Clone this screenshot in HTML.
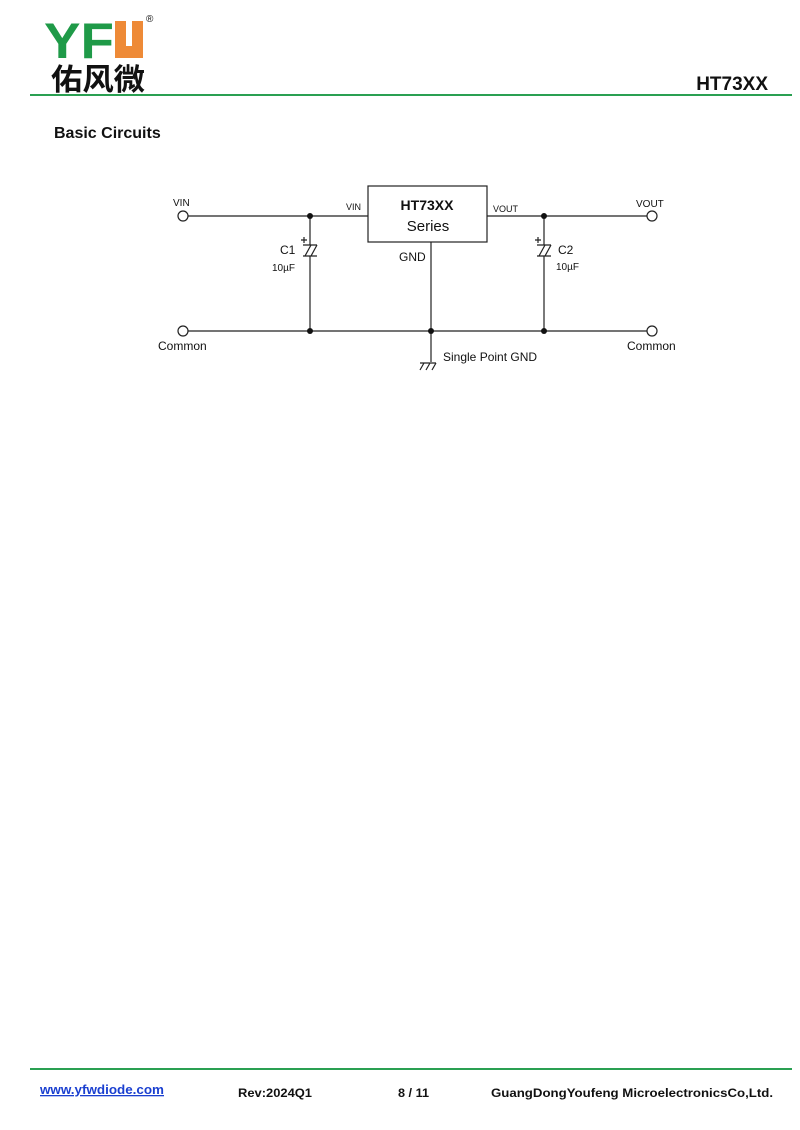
<!DOCTYPE html>
<html><head><meta charset="utf-8"><style>
body{margin:0;background:#fff;width:800px;height:1130px;overflow:hidden}
svg{display:block}
text{font-family:"Liberation Sans",Arial,sans-serif;fill:#111}
</style></head><body>
<svg width="800" height="1130" viewBox="0 0 800 1130" xmlns="http://www.w3.org/2000/svg">
<!-- logo -->
<text x="44" y="58" font-size="50" font-weight="bold" style="fill:#1f9a48" textLength="70" lengthAdjust="spacingAndGlyphs">YF</text>
<path d="M115 21 h11 v25 h6 v-25 h11 v37 h-28 z" fill="#ee8a37"/>
<text x="146" y="22" font-size="10">®</text>
<text x="51" y="90" font-size="30" font-weight="bold" textLength="94" lengthAdjust="spacingAndGlyphs" style="font-family:'Noto Sans CJK SC',sans-serif">佑风微</text>
<text x="768" y="90" font-size="19" font-weight="bold" text-anchor="end">HT73XX</text>
<rect x="30" y="94" width="762" height="2" fill="#2aa052"/>
<text x="54" y="138" font-size="16" font-weight="bold">Basic Circuits</text>

<g stroke="#222" stroke-width="1.2" fill="none">
<circle cx="183" cy="216" r="5"/>
<circle cx="183" cy="331" r="5"/>
<circle cx="652" cy="216" r="5"/>
<circle cx="652" cy="331" r="5"/>
<line x1="188" y1="216" x2="368" y2="216"/>
<line x1="487" y1="216" x2="647" y2="216"/>
<line x1="188" y1="331" x2="647" y2="331"/>
<rect x="368" y="186" width="119" height="56"/>
<line x1="310" y1="216" x2="310" y2="245"/>
<line x1="310" y1="256" x2="310" y2="331"/>
<line x1="544" y1="216" x2="544" y2="245"/>
<line x1="544" y1="256" x2="544" y2="331"/>
<line x1="431" y1="242" x2="431" y2="362"/>
<path d="M303 245 h14 M303 256 h14 M305 256 l6 -11 M311 256 l6 -11"/>
<path d="M537 245 h14 M537 256 h14 M539 256 l6 -11 M545 256 l6 -11"/>
<path d="M420 363 h16 M420 370 l4 -7 M426 370 l4 -7 M432 370 l4 -7"/>
<path d="M301 240 h6 M304 237 v6 M535 240 h6 M538 237 v6"/>
</g>
<g fill="#111">
<circle cx="310" cy="216" r="3"/><circle cx="544" cy="216" r="3"/>
<circle cx="310" cy="331" r="3"/><circle cx="431" cy="331" r="3"/><circle cx="544" cy="331" r="3"/>
</g>
<text x="173" y="206" font-size="10">VIN</text>
<text x="346" y="210" font-size="9">VIN</text>
<text x="427" y="210" font-size="14" font-weight="bold" text-anchor="middle">HT73XX</text>
<text x="428" y="231" font-size="15" text-anchor="middle">Series</text>
<text x="493" y="212" font-size="9">VOUT</text>
<text x="636" y="207" font-size="10">VOUT</text>
<text x="280" y="254" font-size="12">C1</text>
<text x="272" y="271" font-size="10">10µF</text>
<text x="558" y="254" font-size="12">C2</text>
<text x="556" y="270" font-size="10">10µF</text>
<text x="399" y="261" font-size="12">GND</text>
<text x="158" y="350" font-size="12">Common</text>
<text x="627" y="350" font-size="12">Common</text>
<text x="443" y="361" font-size="12">Single Point GND</text>

<rect x="30" y="1068" width="762" height="2" fill="#2aa052"/>
<text x="40" y="1094" font-size="13" font-weight="bold" style="fill:#1a3fd0" text-decoration="underline" textLength="124" lengthAdjust="spacingAndGlyphs">www.yfwdiode.com</text>
<text x="238" y="1097" font-size="12" font-weight="bold" textLength="74" lengthAdjust="spacingAndGlyphs">Rev:2024Q1</text>
<text x="398" y="1097" font-size="12" font-weight="bold" textLength="31" lengthAdjust="spacingAndGlyphs">8 / 11</text>
<text x="491" y="1097" font-size="12" font-weight="bold" textLength="282" lengthAdjust="spacingAndGlyphs">GuangDongYoufeng MicroelectronicsCo,Ltd.</text>
</svg>
</body></html>
